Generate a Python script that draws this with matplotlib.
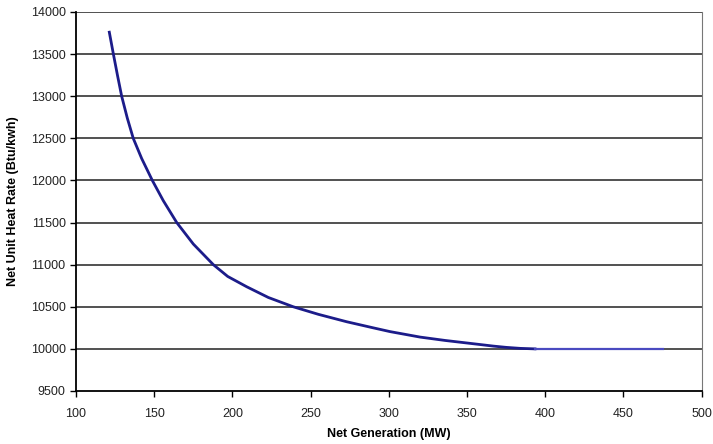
import matplotlib.pyplot as plt

plt.rcParams['font.family'] = ['Liberation Sans', 'DejaVu Sans']

# heat rate curve
gen_mw = [121.3, 123.9, 126.6, 129.2, 132.8, 136.6, 142.0, 148.8, 155.8, 164.4, 175.0, 187.8,
          197.0, 209.1, 223.0, 238.9, 255.0, 273.1, 290.0, 300.8, 320.0, 336.0, 350.8, 360.0,
          366.8, 375.0, 384.0, 393.5]
heat_rate = [13760, 13500, 13240, 13000, 12740, 12500, 12260, 12000, 11760, 11500, 11245, 11000,
             10860, 10738, 10610, 10500, 10410, 10322, 10250, 10205, 10140, 10100, 10068, 10048,
             10033, 10018, 10006, 10000]

# flat part at the top end
flat_mw = [393.5, 475.5]
flat_rate = [10000, 10000]

xticks = [100, 150, 200, 250, 300, 350, 400, 450, 500]
yticks = [9500, 10000, 10500, 11000, 11500, 12000, 12500, 13000, 13500, 14000]

fig = plt.figure(figsize=(7.13, 4.44), dpi=100)
ax = fig.add_axes([0.1066, 0.1194, 0.8774, 0.8536])

for yv in yticks[1:]:
    ax.axhline(yv, color='#222222', lw=1.1, zorder=1)

ax.plot(gen_mw, heat_rate, color='#1c1c8a', lw=2.0, zorder=3)
ax.plot(flat_mw, flat_rate, color='#4a4ac0', lw=1.6, zorder=3)

ax.set_xlim(100, 500)
ax.set_ylim(9500, 14000)
ax.set_xticks(xticks)
ax.set_yticks(yticks)
ax.tick_params(labelsize=9, length=4, width=1, color='black', labelcolor='#222222')
ax.tick_params(axis='x', pad=8)

for s in ['left', 'bottom']:
    ax.spines[s].set_linewidth(1.3)
ax.spines['right'].set_color('#777777')
ax.spines['top'].set_visible(False)

ax.set_xlabel('Net Generation (MW)', fontsize=9, fontweight='bold', labelpad=6)
ax.set_ylabel('Net Unit Heat Rate (Btu/kwh)', fontsize=9, fontweight='bold', labelpad=8)

fig.savefig('out.png', dpi=100)
